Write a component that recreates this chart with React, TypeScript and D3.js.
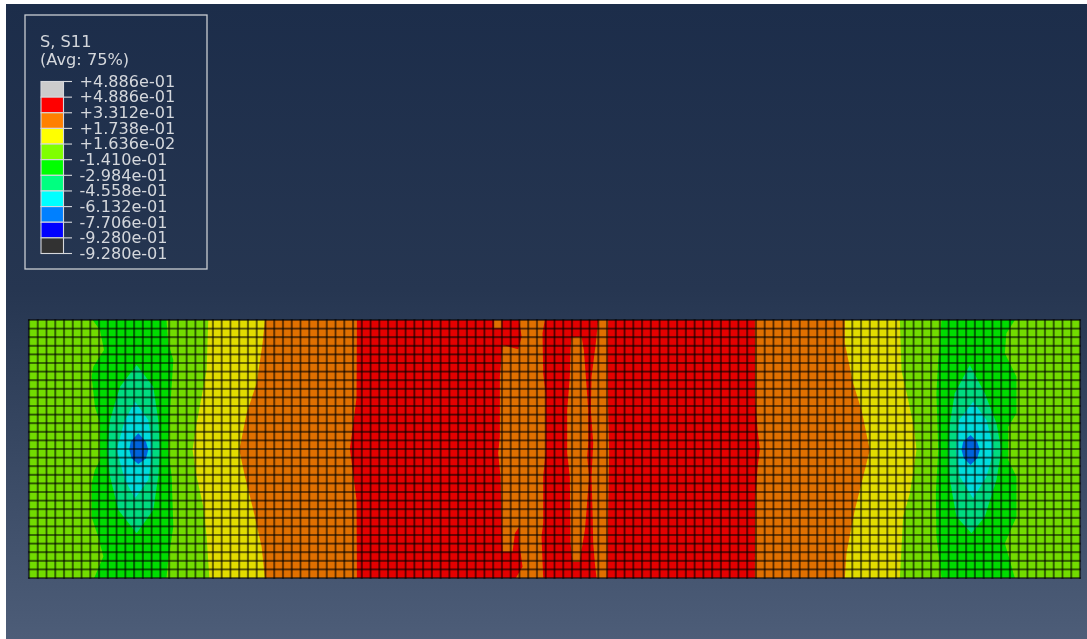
import React from "react";
import * as d3 from "d3";

type P = [number, number];

// Legend
const legendTitle = ["S, S11", "(Avg: 75%)"];
const tickLabels = ["+4.886e-01","+4.886e-01","+3.312e-01","+1.738e-01","+1.636e-02","-1.410e-01","-2.984e-01","-4.558e-01","-6.132e-01","-7.706e-01","-9.280e-01","-9.280e-01"];
const swatchColors = ["#cccccc","#ff0000","#ff8000","#ffff00","#80ff00","#00ff00","#00ff80","#00ffff","#0080ff","#0000ff","#333333"];

// Mesh (element counts)
const meshCols = d3.range(0, 121);
const meshRows = d3.range(0, 31);

// Shaded band colours on the mesh
const shadeYellowGreen = "#72dc00", shadeYellow = "#e2dc00", shadeOrange = "#e07000", shadeRed = "#e40000";
const shadeGreen = "#00dc00", shadeSpring = "#00dc80", shadeCyan = "#00dcdc", shadeBlue = "#0064dc";

// Contour boundaries in element coordinates
const yellowLeft: P[] = [[20.47,0],[20.28,5.81],[19.71,8.91],[19.14,12.02],[18.68,15.12],[19.14,18.22],[19.9,21.7],[20.28,25.2],[20.59,30]];
const yellowRight: P[] = [[99.43,30],[99.81,22.87],[100.57,20.16],[101.33,15.12],[101.03,12.4],[100.38,9.3],[99.62,5.81],[99.43,0]];
const orangeLeft: P[] = [[26.94,0],[26.67,2.71],[25.99,7.36],[24.85,10.85],[24.01,15.12],[24.66,18.22],[25.61,22.09],[26.56,26.36],[26.94,30]];
const orangeRight: P[] = [[93.15,30],[93.34,27.1],[94.29,22.09],[95.24,18.22],[96,15.12],[95.05,10.47],[94.1,7.36],[93.15,2.71],[93.15,0]];
const redLeft: P[] = [[37.44,0],[37.4,9],[36.9,13],[36.64,15],[36.9,17],[37.4,21],[37.44,30]];
const redRight: P[] = [[82.88,30],[82.9,21],[83.2,17],[83.45,15],[83.2,13],[82.9,9],[82.88,0]];

const greenWest: P[] = [[7.27,0],[8.1,1.16],[8.56,3.49],[7.34,5.43],[7.15,6.6],[7.53,10.08],[8.1,12],[8.1,16.3],[7.53,17.4],[7.15,19],[7.15,22.9],[7.9,25.2],[8.49,27.5],[7.53,29.8],[7.42,30],[15.7,30],[15.9,27.9],[16.48,24.03],[16.29,18.2],[15.9,15.1],[16.1,10.5],[16.48,4.65],[15.9,2.71],[15.7,0]];
const springWest: P[] = [[12.29,5.23],[10.39,7.75],[9.25,11.63],[8.94,15.1],[9.25,18.2],[10.2,22.1],[12.29,24.8],[14.19,22.1],[14.76,18.2],[14.95,15.1],[14.76,11.63],[14.19,7.75]];
const cyanWest: P[] = [[12.1,9.5],[10.96,11.63],[10,15.1],[10.96,18.6],[12.1,20.74],[13.62,18.6],[14.12,15.1],[13.62,11.63]];
const blueWest: P[] = [[12.48,13.18],[11.6,14.15],[11.45,15.1],[11.72,16.1],[12.48,16.74],[13.36,16.1],[13.62,15.1],[13.36,14.15]];

const greenEast: P[] = [[104.19,0],[103.81,4.65],[103.61,8.53],[103.81,15.12],[103.54,20.16],[103.61,25.2],[104.19,30],[112.56,30],[111.42,25.97],[112.75,22.87],[112.75,18.22],[111.8,16.28],[111.8,12.4],[112.75,10.85],[112.75,6.59],[111.42,3.88],[111.6,1.55],[112.56,0]];
const springEast: P[] = [[107.42,5.23],[105.71,8.53],[105.14,12.02],[104.95,15.12],[105.14,18.6],[105.9,22.87],[107.61,24.8],[109.13,22.87],[110.46,18.6],[111.03,15.12],[110.46,12.02],[109.13,8.53]];
const cyanEast: P[] = [[107.8,9.5],[106.2,11.63],[105.82,15.12],[106.28,18.22],[107.8,20.74],[109.32,18.22],[110.16,15.12],[109.32,11.63]];
const blueEast: P[] = [[107.5,13.37],[106.66,14.15],[106.47,15.12],[106.74,16.09],[107.5,16.86],[108.26,16.09],[108.56,15.12],[108.26,14.15]];

const centreA: P[] = [[55.97,0],[58.9,0],[58.63,1.55],[58.71,6.2],[58.98,8.53],[58.98,15.5],[58.71,18.22],[58.71,23.64],[58.52,25.19],[58.71,30],[55.59,30],[56.35,28.68],[55.97,25.97],[55.97,24.03],[55.48,24.81],[55.21,26.94],[54.07,26.94],[53.95,22.09],[53.84,18.22],[53.57,15.5],[53.76,13.57],[53.76,6.59],[54.07,2.91],[55.86,3.41],[56.24,1.94]];
const centrePatch: P[] = [[53.08,0],[53.95,0],[53.95,0.97],[53.08,0.97]];
const centreB: P[] = [[61.94,2.02],[63.09,1.94],[63.35,3.49],[63.58,6.59],[63.85,10.47],[63.85,14.34],[63.73,15.89],[63.96,18.22],[63.66,22.09],[63.47,24.42],[63.09,26.74],[62.9,28.1],[62.06,28.1],[61.83,25.97],[61.75,18.22],[61.45,15.5],[61.45,10.47],[61.75,6.59],[61.83,3.49]];
const centreC: P[] = [[64.99,0],[66.13,0],[66.05,3.49],[66.13,10.47],[66.24,15.5],[66.13,22.09],[66.02,30],[64.8,30],[64.61,28.29],[64.42,25.97],[64.34,22.09],[64.23,18.22],[64.42,14.34],[64.15,10.47],[64.23,6.59],[64.72,2.71]];

const bands: { pts: P[]; fill: string }[] = [
  { pts: [...yellowLeft, ...yellowRight], fill: shadeYellow },
  { pts: [...orangeLeft, ...orangeRight], fill: shadeOrange },
  { pts: [...redLeft, ...redRight], fill: shadeRed },
  { pts: centreA, fill: shadeOrange },
  { pts: centrePatch, fill: shadeOrange },
  { pts: centreB, fill: shadeOrange },
  { pts: centreC, fill: shadeOrange },
  { pts: greenWest, fill: shadeGreen },
  { pts: springWest, fill: shadeSpring },
  { pts: cyanWest, fill: shadeCyan },
  { pts: blueWest, fill: shadeBlue },
  { pts: greenEast, fill: shadeGreen },
  { pts: springEast, fill: shadeSpring },
  { pts: cyanEast, fill: shadeCyan },
  { pts: blueEast, fill: shadeBlue },
];

const W = 1087, H = 639;
const x = d3.scaleLinear().domain([0, 120]).range([29, 1080]);
const y = d3.scaleLinear().domain([0, 30]).range([320, 578]);
const poly = d3.line<P>().x((d) => x(d[0])).y((d) => y(d[1])).curve(d3.curveLinearClosed);

const legendY = d3.scaleLinear().domain([0, 11]).range([81.5, 253.5]);

const FONT = "'DejaVu Sans', Verdana, sans-serif";

export default function App() {
  return (
    <svg width={W} height={H} viewBox={`0 0 ${W} ${H}`} style={{ position: "absolute", left: 0, top: 0, background: "#fff", display: "block" }}>
      <defs>
        <linearGradient id="bg" x1="0" y1="0" x2="0" y2="1">
          <stop offset="0" stopColor="#1c2d4a" />
          <stop offset="0.45" stopColor="#263651" />
          <stop offset="1" stopColor="#4d5d78" />
        </linearGradient>
        <clipPath id="beam"><rect x={x(0)} y={y(0)} width={x(120) - x(0)} height={y(30) - y(0)} /></clipPath>
        <filter id="soft" x="-2%" y="-5%" width="104%" height="110%"><feGaussianBlur stdDeviation="0.25" /></filter>
        <filter id="softText" x="-5%" y="-5%" width="110%" height="110%"><feGaussianBlur stdDeviation="0.35" /></filter>
      </defs>
      <rect x={6} y={4} width={W - 6} height={H - 4} fill="url(#bg)" />

      <g filter="url(#soft)">
        <g clipPath="url(#beam)">
          <rect x={x(0)} y={y(0)} width={x(120) - x(0)} height={y(30) - y(0)} fill={shadeYellowGreen} />
          {bands.map((b, i) => <path key={i} d={poly(b.pts) ?? ""} fill={b.fill} />)}
        </g>
        <g stroke="#000" strokeOpacity={0.42} strokeWidth={2.2}>
          {meshCols.map((c) => <line key={c} x1={x(c)} x2={x(c)} y1={y(0) - 1} y2={y(30) + 1} />)}
          {meshRows.map((r) => <line key={r} x1={x(0) - 1} x2={x(120) + 1} y1={y(r)} y2={y(r)} />)}
        </g>
        <g stroke="#000" strokeOpacity={0.45} strokeWidth={0.8}>
          {meshCols.map((c) => <line key={c} x1={x(c)} x2={x(c)} y1={y(0)} y2={y(30)} />)}
          {meshRows.map((r) => <line key={r} x1={x(0)} x2={x(120)} y1={y(r)} y2={y(r)} />)}
        </g>
      </g>

      <g filter="url(#softText)">
        <rect x={25} y={15} width={182} height={254} fill="none" stroke="#c9ccd2" strokeWidth={1.3} />
        {swatchColors.map((c, i) => (
          <rect key={i} x={41} y={legendY(i)} width={22.5} height={legendY(i + 1) - legendY(i)} fill={c} stroke="#d6d8dc" strokeWidth={1.1} />
        ))}
        {tickLabels.map((t, i) => (
          <g key={i}>
            <line x1={63} x2={72} y1={legendY(i)} y2={legendY(i)} stroke="#d6d8dc" strokeWidth={1.1} />
            <text x={79.5} y={legendY(i) + 5.3} fontFamily={FONT} fontSize={16.1} fill="#d4d7dc">{t}</text>
          </g>
        ))}
        {legendTitle.map((t, i) => (
          <text key={t} x={40} y={47 + i * 18} fontFamily={FONT} fontSize={16.2} fill="#d4d7dc">{t}</text>
        ))}
      </g>
    </svg>
  );
}
